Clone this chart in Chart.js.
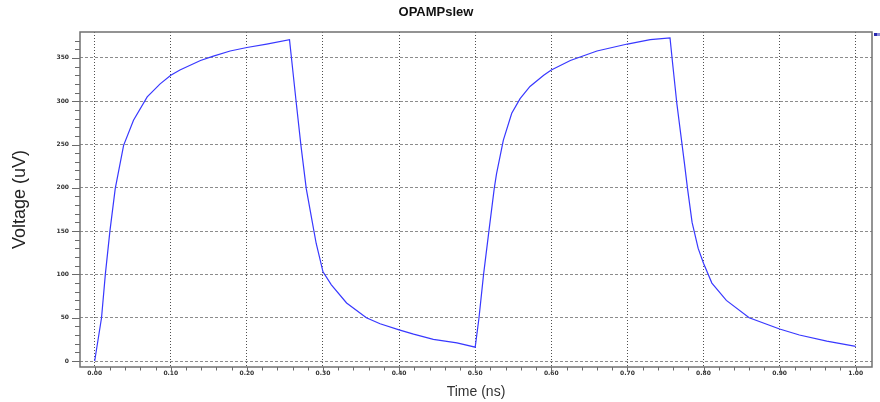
<!DOCTYPE html>
<html>
<head>
<meta charset="utf-8">
<script src="https://cdn.jsdelivr.net/npm/chart.js@4/dist/chart.umd.min.js"></script>
<style>
  html, body { margin: 0; padding: 0; background: #fff; }
  canvas { display: block; }
</style>
</head>
<body>
<canvas id="slew" width="880" height="402"></canvas>
<script>
// values
const timeNs = [
  0, 0.009, 0.014, 0.020, 0.027, 0.038, 0.051, 0.069, 0.086, 0.100, 0.112, 0.139, 0.156, 0.178, 0.200, 0.226, 0.256,
  0.265, 0.271, 0.278, 0.285, 0.291, 0.300, 0.311, 0.331, 0.357, 0.375, 0.400, 0.419, 0.445, 0.476, 0.500,
  0.505, 0.511, 0.518, 0.525, 0.528, 0.537, 0.548, 0.559, 0.572, 0.590, 0.600, 0.625, 0.660, 0.700, 0.730, 0.756,
  0.759, 0.765, 0.775, 0.779, 0.785, 0.793, 0.800, 0.811, 0.830, 0.860, 0.900, 0.926, 0.962, 1.000
];
const voltageUv = [
  0, 50, 100, 150, 199, 249, 278, 305, 320, 330, 336, 347, 352, 358, 362, 366, 371,
  297, 249, 199, 165, 136, 103, 88, 67, 50, 43, 36, 31, 25, 21, 16,
  50, 100, 150, 199, 216, 255, 286, 303, 317, 330, 336, 347, 358, 366, 371, 373,
  347, 297, 228, 199, 160, 130, 113, 90, 70, 50, 37, 30, 23, 17
];
const xMajorTicks = [0, 0.1, 0.2, 0.3, 0.4, 0.5, 0.6, 0.7, 0.8, 0.9, 1.0];
const yMajorTicks = [0, 50, 100, 150, 200, 250, 300, 350];
const xMinorStep = 0.02;
const yMinorStep = 10;

const points = timeNs.map((t, i) => ({ x: t, y: voltageUv[i] }));

// major + minor ticks, minor ones get no grid line and no label
function tickList(majors, step, hi) {
  const out = [];
  const n = Math.round(hi / step);
  for (let i = 0; i <= n; i++) {
    const v = Math.round(i * step * 1000) / 1000;
    out.push({ value: v, big: majors.some(m => Math.abs(m - v) < 1e-9) });
  }
  return out;
}

// tick marks, frame and the little legend mark
const framePlugin = {
  id: "frame",
  afterDraw(chart) {
    const { ctx, chartArea: a, scales } = chart;
    ctx.save();
    ctx.strokeStyle = "#6a6a6a";
    ctx.lineWidth = 1;
    scales.x.ticks.forEach(t => {
      const px = Math.round(scales.x.getPixelForValue(t.value)) + 0.5;
      ctx.beginPath();
      ctx.moveTo(px, a.bottom);
      ctx.lineTo(px, a.bottom + (t.big ? 5 : 3.5));
      ctx.stroke();
    });
    scales.y.ticks.forEach(t => {
      const py = Math.round(scales.y.getPixelForValue(t.value)) + 0.5;
      ctx.beginPath();
      ctx.moveTo(a.left, py);
      ctx.lineTo(a.left - (t.big ? 8 : 5), py);
      ctx.stroke();
    });
    ctx.lineWidth = 1.5;
    ctx.strokeStyle = "#707070";
    ctx.strokeRect(a.left, a.top, a.right - a.left, a.bottom - a.top);
    ctx.fillStyle = "#2a2ab0";
    ctx.fillRect(a.right + 2, a.top + 1, 3, 3);
    ctx.fillStyle = "#8a8ad8";
    ctx.fillRect(a.right + 5, a.top + 1, 3, 3);
    ctx.restore();
  }
};

new Chart(document.getElementById("slew"), {
  type: "line",
  data: {
    datasets: [{
      label: "v",
      data: points,
      borderColor: "#3838ff",
      borderWidth: 1.2,
      pointRadius: 0,
      tension: 0,
      fill: false
    }]
  },
  options: {
    responsive: false,
    animation: false,
    layout: { padding: { left: 0, right: 8, top: 0, bottom: 0 } },
    plugins: {
      legend: { display: false },
      tooltip: { enabled: false },
      title: {
        display: true,
        text: "OPAMPslew",
        color: "#111",
        font: { family: "'Liberation Sans', Arial, sans-serif", size: 13, weight: "bold" },
        padding: { top: 5, bottom: 11.4 }
      }
    },
    scales: {
      x: {
        type: "linear",
        min: -0.0193,
        max: 1.0214,
        afterBuildTicks: s => { s.ticks = tickList(xMajorTicks, xMinorStep, 1.0); },
        afterFit: s => { s.height = 35; },
        grid: {
          drawTicks: false,
          lineWidth: 1,
          color: c => (c.tick && c.tick.big ? "#505050" : "rgba(0,0,0,0)")
        },
        border: { display: false, dash: [1, 2] },
        ticks: {
          autoSkip: false,
          maxRotation: 0,
          padding: 3,
          color: "#333",
          font: { family: "'DejaVu Sans', sans-serif", size: 6, weight: "bold" },
          callback: (v, i, ticks) => (ticks[i].big ? Number(v).toFixed(2) : "")
        },
        title: {
          display: true,
          text: "Time (ns)",
          color: "#333",
          font: { family: "'Liberation Sans', Arial, sans-serif", size: 14 },
          padding: { top: 0, bottom: 1 }
        }
      },
      y: {
        min: -6.9,
        max: 379.9,
        afterBuildTicks: s => { s.ticks = tickList(yMajorTicks, yMinorStep, 370); },
        afterFit: s => { s.width = 80; },
        grid: {
          drawTicks: false,
          lineWidth: 1,
          color: c => (c.tick && c.tick.big ? "#8c8c8c" : "rgba(0,0,0,0)")
        },
        border: { display: false, dash: [3, 2] },
        ticks: {
          autoSkip: false,
          padding: 11,
          color: "#333",
          font: { family: "'DejaVu Sans', sans-serif", size: 6, weight: "bold" },
          callback: (v, i, ticks) => (ticks[i].big ? String(v) : "")
        },
        title: {
          display: true,
          text: "Voltage (uV)",
          color: "#222",
          font: { family: "'Liberation Sans', Arial, sans-serif", size: 18 },
          padding: { top: 9, bottom: 0 }
        }
      }
    }
  },
  plugins: [framePlugin]
});
</script>
</body>
</html>
